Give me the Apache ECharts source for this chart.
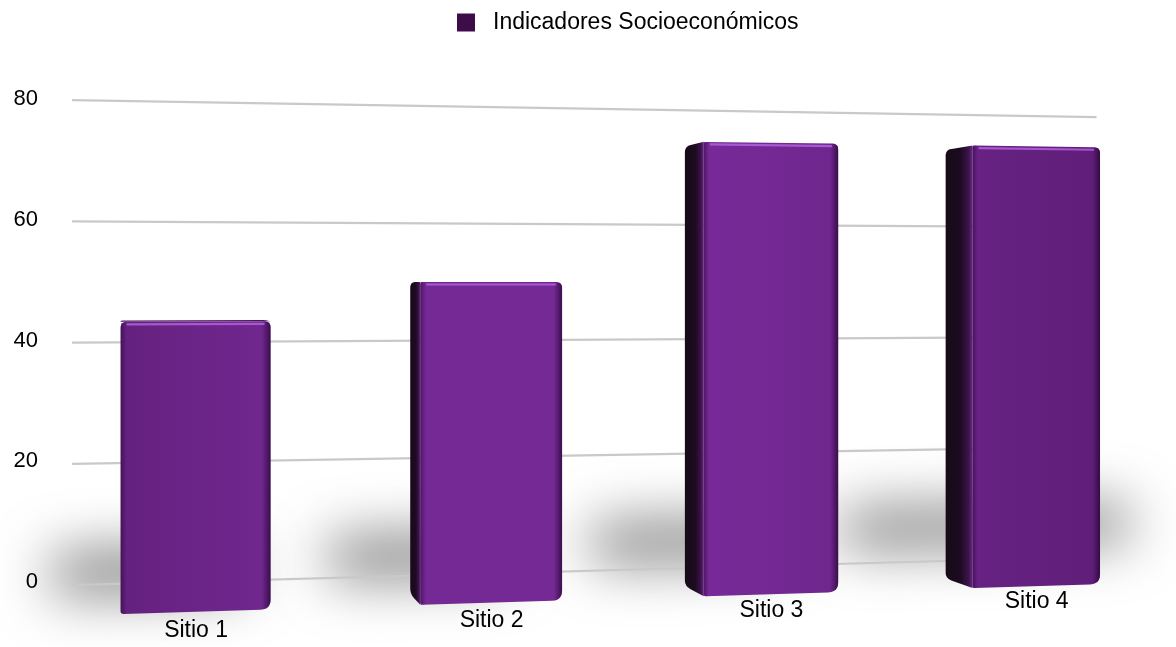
<!DOCTYPE html>
<html>
<head>
<meta charset="utf-8">
<script src="https://cdn.jsdelivr.net/npm/echarts@6/dist/echarts.min.js"></script>
<style>
  html, body { margin: 0; padding: 0; background: #ffffff; }
  #chart { width: 1176px; height: 647px; }
</style>
</head>
<body>
<div id="chart"></div>
<script>
// ---- data ----
const categories = ['Sitio 1', 'Sitio 2', 'Sitio 3', 'Sitio 4'];
const seriesName = 'Indicadores Socioeconómicos';
const values = [44, 50, 72.3, 72.3];
const yTicks = [0, 20, 40, 60, 80];

// ---- perspective scene ----
// World: X runs along the categories, Y is the value, Z points towards the viewer.
const Y_MAX = 80;
const CAM = { cx: 588, horizon: 282, focal: 2212, eye: 50, yaw: 0.2094 };
const WORLD = { x0: -11.1, span: 181.6 };          // category band in world X
const WALL_X = [-7.4, 174.2];                        // extent of the back wall
const DEPTH = { wall: -374.5, front: -340.5, back: -352.5, label: -322 };
const BAR = { width: 22.4 };
// soft floor shadow behind each bar (spread in bar widths)
const SHADOW = { left: 0.98, halfH: 3.0, y0: 1.6, rise: 0.03, shift: 4000, blur: 56 };
const SHADOW_RIGHT = [0.4, 0.4, 0.6, 1.45];
const FONT = '"Liberation Sans", Arial, Helvetica, sans-serif';

function project(X, Y, Z) {
  const s = Math.sin(CAM.yaw), c = Math.cos(CAM.yaw);
  const D = X * s - Z * c;
  const L = X * c + Z * s;
  return [CAM.cx + CAM.focal * L / D, CAM.horizon - CAM.focal * (Y - CAM.eye) / D];
}

// flat cartesian coordinate -> world (X, Y)
function toWorld(pt, cs) {
  return [
    WORLD.x0 + (pt[0] - cs.x) / cs.width * WORLD.span,
    (cs.y + cs.height - pt[1]) / cs.height * Y_MAX
  ];
}

// polygon with quadratic-rounded corners (radius per corner, screen px)
function roundPoly(pts, radii) {
  const out = [];
  const n = pts.length;
  for (let i = 0; i < n; i++) {
    const p = pts[i], r = radii[i] || 0;
    if (r <= 0) { out.push(p); continue; }
    const a = pts[(i + n - 1) % n], b = pts[(i + 1) % n];
    const la = Math.hypot(a[0] - p[0], a[1] - p[1]) || 1;
    const lb = Math.hypot(b[0] - p[0], b[1] - p[1]) || 1;
    const ra = Math.min(r, la / 2), rb = Math.min(r, lb / 2);
    const p1 = [p[0] + (a[0] - p[0]) / la * ra, p[1] + (a[1] - p[1]) / la * ra];
    const p2 = [p[0] + (b[0] - p[0]) / lb * rb, p[1] + (b[1] - p[1]) / lb * rb];
    for (let k = 0; k <= 6; k++) {
      const t = k / 6, u = 1 - t;
      out.push([u * u * p1[0] + 2 * u * t * p[0] + t * t * p2[0],
                u * u * p1[1] + 2 * u * t * p[1] + t * t * p2[1]]);
    }
  }
  return out;
}

const frontFill = {
  type: 'linear', x: 0, y: 0, x2: 1176, y2: 0, global: true,
  colorStops: [
    { offset: 0.00, color: '#5a1c71' },
    { offset: 0.25, color: '#732892' },
    { offset: 0.60, color: '#772a98' },
    { offset: 1.00, color: '#5b1c73' }
  ]
};
const frontEdges = {
  type: 'linear', x: 0, y: 0, x2: 1, y2: 0,
  colorStops: [
    { offset: 0.00, color: 'rgba(30,0,40,0.45)' },
    { offset: 0.04, color: 'rgba(30,0,40,0)' },
    { offset: 0.94, color: 'rgba(30,0,40,0)' },
    { offset: 1.00, color: 'rgba(30,0,40,0.65)' }
  ]
};
const sideFill = {
  type: 'linear', x: 0, y: 0, x2: 1, y2: 0,
  colorStops: [
    { offset: 0.00, color: '#160a17' },
    { offset: 0.55, color: '#1d0b21' },
    { offset: 0.85, color: '#3b1449' },
    { offset: 1.00, color: '#6d268b' }
  ]
};

function renderShadow(params, api) {
  const cs = params.coordSys;
  const Xc = toWorld(api.coord([api.value(0), 0]), cs)[0];
  const right = SHADOW_RIGHT[params.dataIndex];
  const xa = Xc - SHADOW.left * BAR.width, xb = Xc + right * BAR.width;
  const yc = SHADOW.y0 + SHADOW.rise * Xc;
  const ya = yc - SHADOW.halfH, yb = yc + SHADOW.halfH;
  const pts = [
    project(xa, ya, DEPTH.wall), project(xa, yb, DEPTH.wall),
    project(xb, yb, DEPTH.wall), project(xb, ya, DEPTH.wall)
  ].map(p => [p[0] - SHADOW.shift, p[1]]);
  return {
    type: 'polygon',
    shape: { points: pts },
    style: {
      fill: '#000',
      shadowColor: 'rgba(0,0,0,0.6)',
      shadowBlur: SHADOW.blur,
      shadowOffsetX: SHADOW.shift,
      shadowOffsetY: 0
    }
  };
}

function renderGridLine(params, api) {
  const cs = params.coordSys;
  const Y = toWorld(api.coord([0, api.value(1)]), cs)[1];
  const a = project(WALL_X[0], Y, DEPTH.wall);
  const b = project(WALL_X[1], Y, DEPTH.wall);
  return {
    type: 'line',
    shape: { x1: a[0], y1: a[1], x2: b[0], y2: b[1] },
    style: { stroke: '#c9c9c9', lineWidth: 2.2 }
  };
}

function renderBar(params, api) {
  const cs = params.coordSys;
  const w = toWorld(api.coord([api.value(0), api.value(1)]), cs);
  const Xc = w[0], Y = w[1];
  const XL = Xc - BAR.width / 2, XR = Xc + BAR.width / 2;
  const fBL = project(XL, 0, DEPTH.front), fTL = project(XL, Y, DEPTH.front);
  const fTR = project(XR, Y, DEPTH.front), fBR = project(XR, 0, DEPTH.front);
  const bBL = project(XL, 0, DEPTH.back), bTL = project(XL, Y, DEPTH.back);
  const bTR = project(XR, Y, DEPTH.back);
  const children = [];
  const sideVisible = fBL[0] - bBL[0] > 1.5;

  if (sideVisible) {
    children.push({
      type: 'polygon',
      shape: { points: roundPoly([bBL, bTL, fTL, fBL], [6, 6, 0, 0]) },
      style: { fill: sideFill }
    });
  }
  if (Y < CAM.eye) {
    children.push({
      type: 'polygon',
      shape: { points: roundPoly([fTL, bTL, bTR, fTR], [0, 4, 4, 0]) },
      style: { fill: '#4a175c' }
    });
  }
  const frontPts = roundPoly([fBL, fTL, fTR, fBR],
    sideVisible ? [2, 2, 6, 10] : [3, 6, 6, 10]);
  children.push({ type: 'polygon', shape: { points: frontPts }, style: { fill: frontFill } });
  children.push({ type: 'polygon', shape: { points: frontPts }, style: { fill: frontEdges } });
  // bevel highlight along the top edge
  children.push({
    type: 'line',
    shape: { x1: fTL[0] + 6, y1: fTL[1] + 2.5, x2: fTR[0] - 6, y2: fTR[1] + 2.5 },
    style: { stroke: 'rgba(178,98,220,0.85)', lineWidth: 2.2 }
  });
  return { type: 'group', children: children };
}

function renderLabel(params, api) {
  const cs = params.coordSys;
  const Xc = toWorld(api.coord([api.value(0), 0]), cs)[0];
  const x = project(Xc, 0, DEPTH.front)[0];
  const y = project(Xc, 0, DEPTH.label)[1];
  return {
    type: 'text',
    x: x, y: y,
    style: {
      text: categories[params.dataIndex],
      fill: '#000',
      fontSize: 23,
      fontFamily: FONT,
      align: 'center', verticalAlign: 'middle',
      textAlign: 'center', textVerticalAlign: 'middle'
    }
  };
}

const barData = values.map((v, i) => [i, v]);

const option = {
  backgroundColor: '#ffffff',
  animation: false,
  legend: {
    data: [seriesName],
    left: 457, top: 11, padding: 0,
    icon: 'rect', itemWidth: 18, itemHeight: 18,
    textStyle: { fontSize: 23, fontFamily: FONT, color: '#000', padding: [0, 0, 0, 13] }
  },
  grid: { left: 67, right: 79, top: 99, bottom: 65, containLabel: false },
  xAxis: {
    type: 'category', data: categories,
    axisLine: { show: false }, axisTick: { show: false }, axisLabel: { show: false },
    splitLine: { show: false }
  },
  yAxis: {
    type: 'value', min: 0, max: Y_MAX, interval: 20,
    axisLine: { show: false }, axisTick: { show: false }, splitLine: { show: false },
    axisLabel: { fontSize: 22, fontFamily: FONT, color: '#000', margin: 29 }
  },
  series: [
    { type: 'custom', name: 'sombra', z: 1, silent: true, clip: false,
      renderItem: renderShadow, data: barData },
    { type: 'custom', name: 'rejilla', z: 2, silent: true, clip: false,
      renderItem: renderGridLine, data: yTicks.map(t => [0, t]) },
    { type: 'custom', name: seriesName, z: 3, clip: false,
      itemStyle: { color: '#3e0c48' },
      renderItem: renderBar, data: barData },
    { type: 'custom', name: 'etiquetas', z: 4, silent: true, clip: false,
      renderItem: renderLabel, data: categories.map((c, i) => [i, 0]) }
  ]
};

const chart = echarts.init(document.getElementById('chart'), null, { renderer: 'canvas' });
chart.setOption(option);
</script>
</body>
</html>
